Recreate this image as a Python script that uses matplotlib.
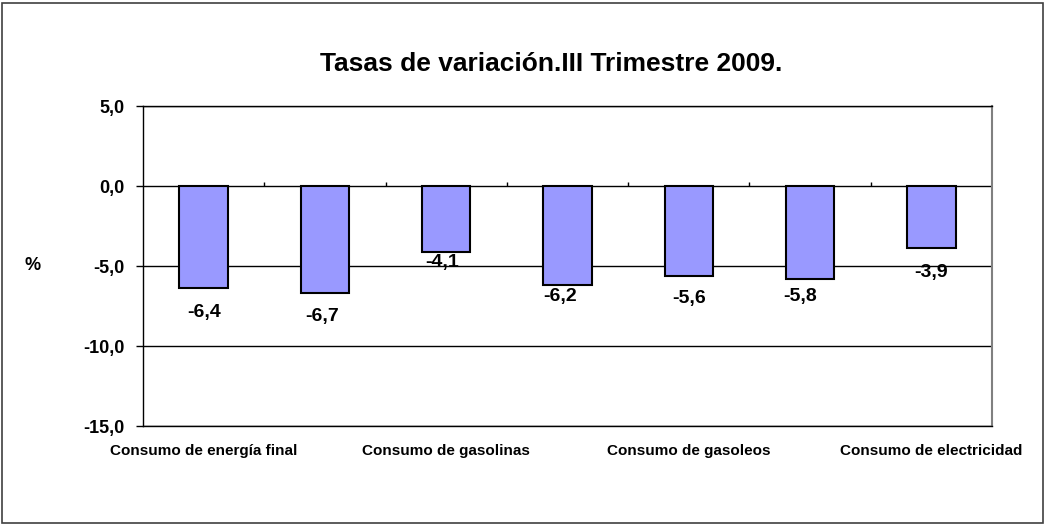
#
# Imports
#
import matplotlib
matplotlib.use("Agg")
import matplotlib.pyplot as plt
from matplotlib.patches import Rectangle
import numpy as np

plt.rcParams['font.family'] = ['Liberation Sans', 'DejaVu Sans']
plt.rcParams['font.weight'] = 'bold'

#
# Data
#
title = "Tasas de variación.III Trimestre 2009."
xlabels = ["Consumo de energía final", "", "Consumo de gasolinas", "",
           "Consumo de gasoleos", "", "Consumo de electricidad"]
values = [-6.4, -6.7, -4.1, -6.2, -5.6, -5.8, -3.9]
yticks = [5.0, 0.0, -5.0, -10.0, -15.0]

# label nudges (points) - labels were hand placed in the original
label_dx = [0, -2, -3, -5, 0, -7, 0]
label_dy = [-17, -17, -8, -8, -16.5, -13, -17]


def fmt(v):
    return "{:.1f}".format(v).replace(".", ",")


#
# Plot
#
fig = plt.figure(figsize=(10.45, 5.25), dpi=100)
fig.patches.append(Rectangle((2 / 1045, 2 / 525), 1041 / 1045, 520 / 525,
                             transform=fig.transFigure, fill=False,
                             edgecolor='#404040', linewidth=1.2))

ax = fig.add_axes([143 / 1045, 1 - 426 / 525, 849 / 1045, 320 / 525])

x = np.arange(len(values))
bars = ax.bar(x, values, width=0.4, color='#9999FF', edgecolor='black',
              linewidth=1.5, zorder=3)

for i, (b, v) in enumerate(zip(bars, values)):
    ax.annotate(fmt(v), (b.get_x() + b.get_width() / 2, v),
                xytext=(label_dx[i], label_dy[i]), textcoords='offset points',
                ha='center', va='center', fontsize=14, fontweight='bold',
                zorder=4)

# category separators on the zero line
ax.vlines(x[:-1] + 0.5, 0, 0.25, color='black', linewidth=1, zorder=2)

ax.set_xlim(-0.5, len(values) - 0.5)
ax.set_ylim(min(yticks), max(yticks))
ax.set_yticks(yticks)
ax.set_yticklabels([fmt(v) for v in yticks], fontsize=13, fontweight='bold')
ax.yaxis.grid(True, color='black', linewidth=1)
ax.set_axisbelow(True)
ax.tick_params(axis='y', length=5, width=1, pad=8)

ax.set_xticks(x)
ax.set_xticklabels(xlabels, fontsize=11, fontweight='bold')
ax.tick_params(axis='x', length=0, pad=13)

for s in ['left', 'bottom', 'top']:
    ax.spines[s].set_color('black')
    ax.spines[s].set_linewidth(1)
ax.spines['right'].set_color('#808080')
ax.spines['right'].set_linewidth(1.5)

ax.set_ylabel("%", rotation=0, fontsize=13, fontweight='bold', labelpad=0,
              va='center')
ax.yaxis.set_label_coords(-110 / 849, 0.5)

fig.text(551 / 1045, 1 - 64 / 525, title, ha='center', va='center',
         fontsize=19, fontweight='bold')

fig.savefig("out.png", dpi=100)
